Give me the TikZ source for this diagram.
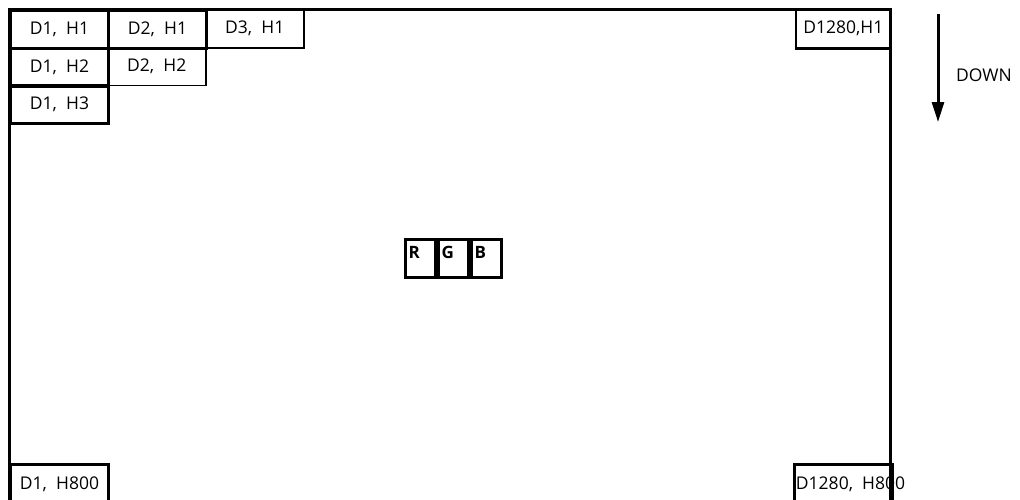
\documentclass[tikz,border=0pt]{standalone}
\usepackage{fontspec}
\setmainfont{Open Sans}
\usetikzlibrary{arrows.meta}
\begin{document}
\begin{tikzpicture}[x=1pt,y=-1pt,
  thick line/.style={line width=3pt},
  thin line/.style={line width=1.5pt},
  cell/.style={draw, thick line, rectangle, inner sep=0pt, minimum width=98pt, minimum height=38pt, anchor=north west, font=\fontsize{17.5}{20}\selectfont},
  thincell/.style={cell, thin line},
  rgbcell/.style={draw, thick line, rectangle, inner xsep=3pt, inner ysep=0pt, text width=24pt, minimum height=38pt, anchor=north west, align=left, text height=19pt, text depth=19pt, font=\bfseries\fontsize{17}{20}\selectfont},
  lbl/.style={font=\fontsize{17.5}{20}\selectfont, inner sep=0pt}
]
\useasboundingbox (0,0) rectangle (1020,499);
\clip (0,0) rectangle (1020,499);
\fill[white] (0,0) rectangle (1020,499);
% top-left cells
\node[thincell] (d3h1) at (205,9) {D3,\ \ H1};
\node[thincell] (d2h2) at (107,46.5) {D2,\ \ H2};
\node[cell] (d1h1) at (9,9) {D1,\ \ H1};
\node[cell] (d2h1) at (107,9) {D2,\ \ H1};
\node[cell] (d1h2) at (9,46.5) {D1,\ \ H2};
\node[cell] (d1h3) at (9,84) {D1,\ \ H3};
% top-right cell
\node[thincell, minimum width=95pt] (d1280h1) at (795,9) {D1280,H1};
\draw[thick line] (d1280h1.south west) -- (d1280h1.south east);
% outer frame
\coordinate (tl) at (9,9);
\coordinate (tr) at (890,9);
\coordinate (bl) at (9,510);
\coordinate (br) at (890,510);
\draw[thick line] (bl) -- (tl) -- (tr) -- (br);
% bottom cells
\node[cell] (d1h800) at (9,463) {};
\node[lbl] (t1) at ([yshift=-1pt]d1h800.center) {D1,\ \ H800};
\node[cell] (d1280h800) at (793,463) {};
\node[lbl] (t2) at ([xshift=7pt,yshift=-1pt]d1280h800.center) {D1280,\ \ H800};
% RGB
\node[rgbcell] (r) at (404,238) {R};
\node[rgbcell] (g) at (r.north east) {G};
\node[rgbcell] (b) at (g.north east) {B};
% arrow
\coordinate (a1) at (938,14);
\coordinate (a2) at (938,122);
\draw[line width=3pt, -{Triangle[width=12pt,length=20pt]}] (a1) -- (a2);
\node[lbl, anchor=west] (down) at (956,75) {DOWN};
\end{tikzpicture}
\end{document}
